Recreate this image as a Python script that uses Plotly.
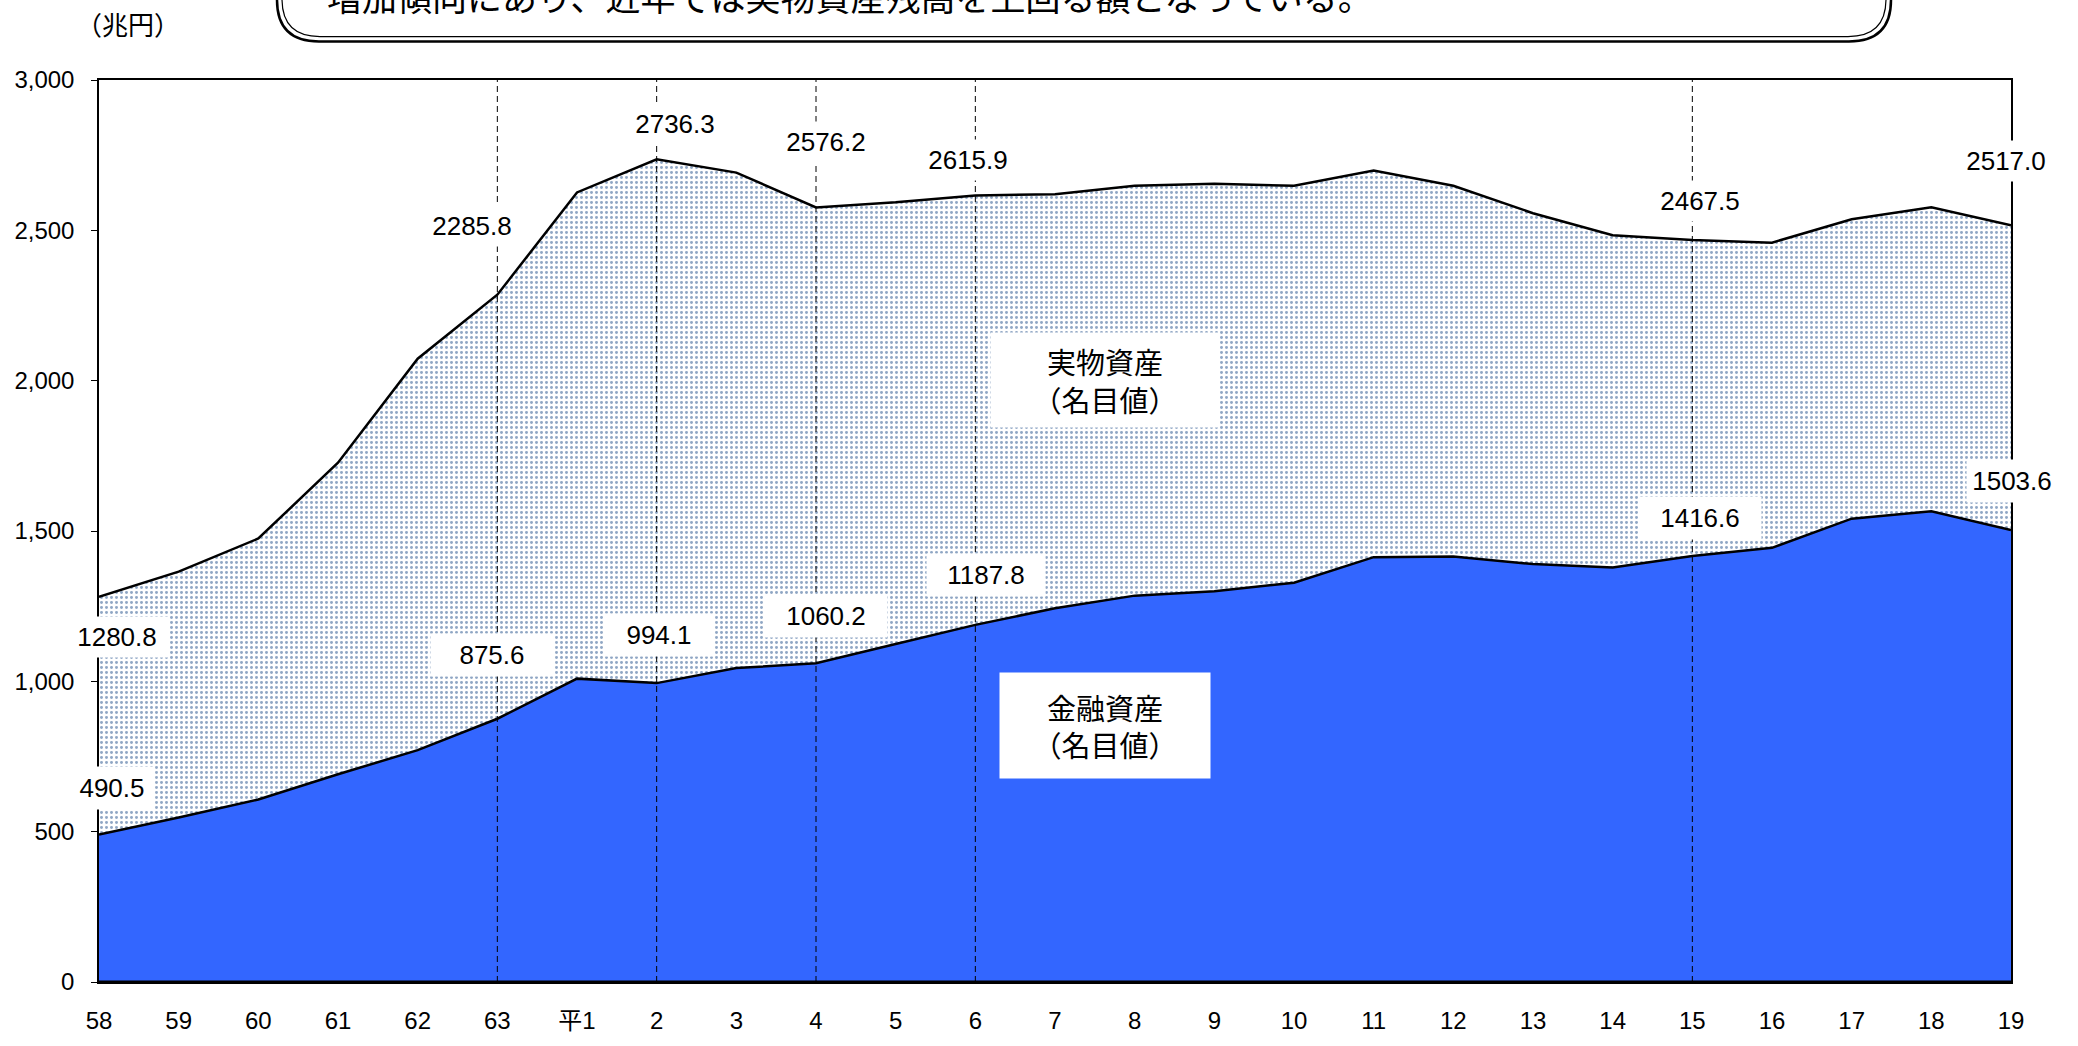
import plotly.graph_objects as go

# Fiscal years (昭和58年 – 平成19年)
years = ["58", "59", "60", "61", "62", "63", "平1", "2", "3", "4", "5", "6", "7",
         "8", "9", "10", "11", "12", "13", "14", "15", "16", "17", "18", "19"]

# Total assets = financial + real (兆円)
total_assets = [1280.8, 1365, 1475, 1727, 2073, 2285.8, 2626, 2736.3, 2692, 2576.2,
                2593, 2615.9, 2620, 2648, 2655, 2648, 2699, 2648, 2557, 2484,
                2467.5, 2459, 2537, 2577, 2517.0]

# Financial assets (兆円)
financial_assets = [490.5, 547, 607, 691, 771, 875.6, 1009, 994.1, 1044, 1060.2,
                    1124, 1187.8, 1243, 1285, 1300, 1328, 1413, 1415, 1390, 1379,
                    1416.6, 1444, 1541, 1566, 1503.6]

# Years marked with a dashed guide and value labels
marked_years = ["58", "63", "2", "4", "6", "15", "19"]
guide_years = ["63", "2", "4", "6", "15"]

y_ticks = [0, 500, 1000, 1500, 2000, 2500, 3000]

# label offsets (px) for the value boxes: (xshift, yshift, width)
total_label_pos = {
    "58": (18, -40, 100), "63": (-25, 69, 96), "2": (18, 35, 96), "4": (10, 65, 96),
    "6": (-7, 35, 96), "15": (8, 39, 96), "19": (-5, 64, 92),
}
fin_label_pos = {
    "58": (13, 47, 80), "63": (-5, 64, 120), "2": (2, 48, 108), "4": (10, 47, 120),
    "6": (11, 50, 116), "15": (8, 38, 120), "19": (1, 49, 88),
}

NUM_FONT = "Liberation Sans, Arial, Noto Sans CJK JP"
JP_FONT = "Noto Sans CJK JP, Liberation Sans"

fig = go.Figure()

fig.add_trace(go.Scatter(
    x=years, y=financial_assets, mode="lines",
    line=dict(color="black", width=2.5),
    fill="tozeroy", fillcolor="#3366FF",
    name="金融資産", hoverinfo="x+y",
))

fig.add_trace(go.Scatter(
    x=years, y=total_assets, mode="lines",
    line=dict(color="black", width=2.5),
    fill="tonexty", fillcolor="white",
    fillpattern=dict(shape=".", fgcolor="#1F4E8A", bgcolor="white",
                     size=5, solidity=0.27),
    name="総資産", hoverinfo="x+y",
))

shapes = []
for yr in guide_years:
    i = years.index(yr)  # category serial number
    shapes.append(dict(type="line", xref="x", yref="paper", x0=i, x1=i, y0=0, y1=1,
                       line=dict(color="black", width=1, dash="6px,4px"), layer="above"))
# heavy baseline
shapes.append(dict(type="line", xref="paper", yref="y", x0=0, x1=1, y0=0, y1=0,
                   line=dict(color="black", width=3), layer="above"))

# rounded double-ruled box of the heading (top part runs off the page)
PLOT_L, PLOT_W, PLOT_B, PLOT_H = 99, 1912, 993, 913


def px(x):
    return (x - PLOT_L) / PLOT_W


def py(y):
    return (PLOT_B - y) / PLOT_H


def rounded_bottom(left, right, bottom, r, top=-80):
    return (f"M {px(left)},{py(top)} L {px(left)},{py(bottom - r)} "
            f"Q {px(left)},{py(bottom)} {px(left + r)},{py(bottom)} "
            f"L {px(right - r)},{py(bottom)} "
            f"Q {px(right)},{py(bottom)} {px(right)},{py(bottom - r)} "
            f"L {px(right)},{py(top)}")


shapes.append(dict(type="path", xref="paper", yref="paper",
                   path=rounded_bottom(277, 1891, 41, 42),
                   line=dict(color="black", width=2.5)))
shapes.append(dict(type="path", xref="paper", yref="paper",
                   path=rounded_bottom(282, 1886, 36, 38),
                   line=dict(color="black", width=1.2)))

annotations = []
for yr in marked_years:
    i = years.index(yr)
    xs, ys, w = total_label_pos[yr]
    annotations.append(dict(x=i, y=total_assets[i], xref="x", yref="y",
                            text=f"{total_assets[i]:.1f}", showarrow=False,
                            xshift=xs, yshift=ys, width=w, height=38,
                            bgcolor="white", font=dict(family=NUM_FONT, size=26, color="black")))
    xs, ys, w = fin_label_pos[yr]
    annotations.append(dict(x=i, y=financial_assets[i], xref="x", yref="y",
                            text=f"{financial_assets[i]:.1f}", showarrow=False,
                            xshift=xs, yshift=ys, width=w, height=40,
                            bgcolor="white", font=dict(family=NUM_FONT, size=26, color="black")))

annotations.append(dict(x=px(1105), y=py(384), xref="paper", yref="paper",
                        xanchor="center", yanchor="middle",
                        text="実物資産<br>（名目値）", showarrow=False,
                        width=226, height=92, bgcolor="white",
                        font=dict(family=JP_FONT, size=29, color="black")))
annotations.append(dict(x=px(1105), y=py(733), xref="paper", yref="paper",
                        xanchor="center", yanchor="middle",
                        text="金融資産<br>（名目値）", showarrow=False,
                        width=208, height=103, bgcolor="white",
                        font=dict(family=JP_FONT, size=29, color="black")))

annotations.append(dict(x=px(128), y=py(23), xref="paper", yref="paper",
                        xanchor="center", yanchor="middle",
                        text="（兆円）", showarrow=False,
                        font=dict(family=JP_FONT, size=26, color="black")))

annotations.append(dict(x=px(325), y=py(-6), xref="paper", yref="paper",
                        xanchor="left", yanchor="middle",
                        text="増加傾向にあり、近年では実物資産残高を上回る額となっている。",
                        showarrow=False,
                        font=dict(family=JP_FONT, size=35, color="black")))

fig.update_layout(
    width=2078, height=1046,
    margin=dict(l=PLOT_L, r=2078 - PLOT_L - PLOT_W, t=80, b=1046 - PLOT_B),
    paper_bgcolor="white", plot_bgcolor="white",
    showlegend=False,
    shapes=shapes, annotations=annotations,
    xaxis=dict(type="category", categoryorder="array", categoryarray=years,
               range=[0, len(years) - 1], showgrid=False, zeroline=False,
               showline=True, linecolor="black", linewidth=1.5, mirror=True,
               ticks="", ticklabelstandoff=16,
               tickfont=dict(family=NUM_FONT, size=24, color="black")),
    yaxis=dict(range=[0, 3000], tickvals=y_ticks, tickformat=",",
               showgrid=False, zeroline=False,
               showline=True, linecolor="black", linewidth=1.5, mirror=True,
               ticks="outside", ticklen=6, tickcolor="black", ticklabelstandoff=12,
               tickfont=dict(family=NUM_FONT, size=24, color="black")),
)

fig.write_html("out.html")
